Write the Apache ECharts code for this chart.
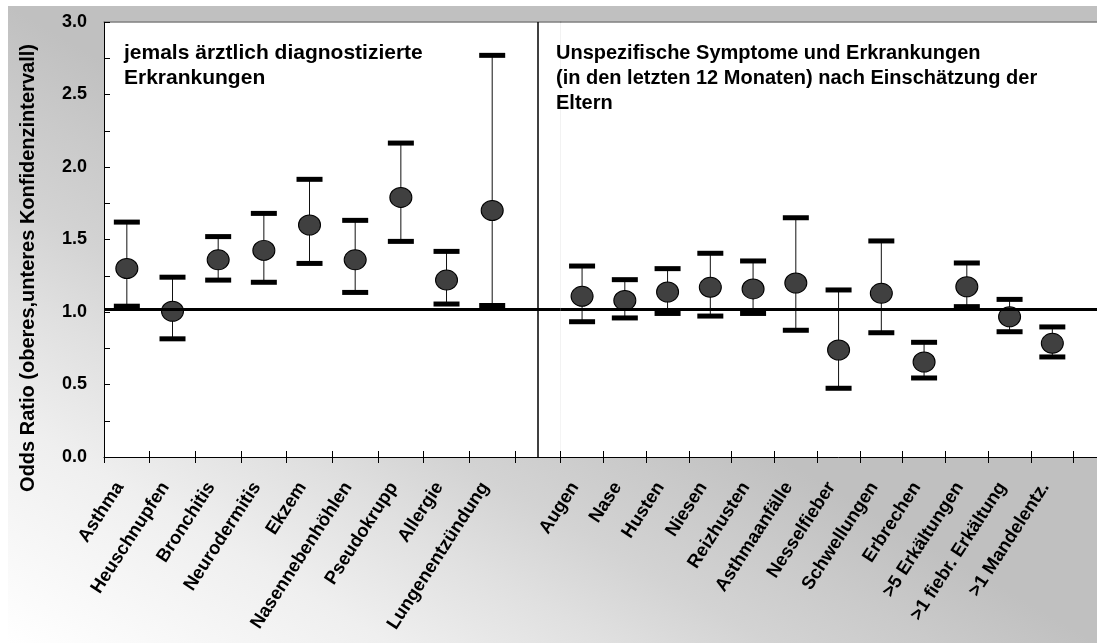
<!DOCTYPE html>
<html><head><meta charset="utf-8">
<script src="https://cdn.jsdelivr.net/npm/echarts@6/dist/echarts.min.js"></script>
<style>html,body{margin:0;padding:0;background:#fff;overflow:hidden}#c{width:1120px;height:643px}</style>
</head><body><div id="c"></div>
<script>
const categoriesLeft = ['Asthma','Heuschnupfen','Bronchitis','Neurodermitis','Ekzem','Nasennebenhöhlen','Pseudokrupp','Allergie','Lungenentzündung',''];
const oddsLeft  = [1.30, 1.005, 1.36, 1.425, 1.60, 1.36, 1.79, 1.22, 1.70];
const lowerLeft = [1.04, 0.815, 1.22, 1.205, 1.335, 1.135, 1.487, 1.055, 1.045];
const upperLeft = [1.62, 1.24, 1.52, 1.68, 1.915, 1.632, 2.165, 1.418, 2.77];

const categoriesRight = ['Augen','Nase','Husten','Niesen','Reizhusten','Asthmaanfälle','Nesselfieber','Schwellungen','Erbrechen','>5 Erkältungen','>1 fiebr. Erkältung','>1 Mandelentz.',''];
const oddsRight  = [1.108, 1.08, 1.138, 1.17, 1.159, 1.20, 0.738, 1.129, 0.655, 1.174, 0.967, 0.784];
const lowerRight = [0.933, 0.959, 0.99, 0.972, 0.99, 0.874, 0.474, 0.857, 0.545, 1.037, 0.864, 0.69];
const upperRight = [1.317, 1.223, 1.299, 1.405, 1.352, 1.65, 1.152, 1.49, 0.791, 1.338, 1.087, 0.897];

const referenceValue = 1.02;
const dividerCategoryIndex = 9;
const yTicks = {min: 0, max: 3, step: 0.25};
const yAxisName = 'Odds Ratio (oberes,unteres Konfidenzintervall)';
const noteLeft = 'jemals ärztlich diagnostizierte\nErkrankungen';
const noteRight = 'Unspezifische Symptome und Erkrankungen\n(in den letzten 12 Monaten) nach Einschätzung der\nEltern';

const FONT = "'Liberation Sans', Arial, Helvetica, sans-serif";

function errData(lo, hi) { return lo.map((v, i) => [i, v, hi[i]]); }

function renderErr(params, api) {
  const x = api.value(0);
  const pLo = api.coord([x, api.value(1)]);
  const pHi = api.coord([x, api.value(2)]);
  const cw = 26, ch = 5;
  return {
    type: 'group',
    children: [
      {type: 'line', shape: {x1: pLo[0], y1: pLo[1], x2: pHi[0], y2: pHi[1]}, style: {stroke: '#111', lineWidth: 1}},
      {type: 'rect', shape: {x: pLo[0] - cw / 2, y: pLo[1] - ch / 2, width: cw, height: ch}, style: {fill: '#000'}},
      {type: 'rect', shape: {x: pHi[0] - cw / 2, y: pHi[1] - ch / 2, width: cw, height: ch}, style: {fill: '#000'}}
    ]
  };
}

const chart = echarts.init(document.getElementById('c'), null, {renderer: 'canvas'});

const labelStyle = {interval: 0, rotate: 57, fontSize: 18.5, fontWeight: 'bold', color: '#000', fontFamily: FONT, margin: 16, padding: [0, 13, 0, 0]};

function xAxes(gridIndex, cats) {
  return [
    {type: 'category', gridIndex, data: cats, position: 'bottom', boundaryGap: true,
     axisLine: {show: true, lineStyle: {color: '#000', width: 1}},
     axisTick: {show: true, interval: 0, length: 6, lineStyle: {color: '#000'}},
     axisLabel: labelStyle, splitLine: {show: false}},
    {type: 'category', gridIndex, data: cats, position: 'bottom', boundaryGap: true,
     axisLine: {show: false},
     axisTick: {show: true, inside: true, interval: 0, length: 6, lineStyle: {color: '#000'}},
     axisLabel: {show: false}, splitLine: {show: false}},
    {type: 'category', gridIndex, data: cats, position: 'top', boundaryGap: true,
     axisLine: {show: true, lineStyle: {color: '#808080', width: 1.5}},
     axisTick: {show: false}, axisLabel: {show: false}, splitLine: {show: false}}
  ];
}

const isHalf = v => Math.abs(v * 2 - Math.round(v * 2)) < 1e-6;

const option = {
  animation: false,
  backgroundColor: '#ffffff',
  graphic: {
    elements: [
      {type: 'rect', z: -100, silent: true,
       shape: {x: 8, y: 6, width: 1112, height: 637},
       style: {fill: new echarts.graphic.LinearGradient(8, 643, 286, 168, [
         {offset: 0, color: '#ffffff'},
         {offset: 0.35, color: '#efefef'},
         {offset: 0.55, color: '#e0e0e0'},
         {offset: 0.7, color: '#d3d3d3'},
         {offset: 0.85, color: '#cacaca'},
         {offset: 1, color: '#c0c0c0'}
       ], true)}},
      {type: 'text', x: 28, y: 268, rotation: Math.PI / 2, silent: true,
       style: {text: yAxisName, fill: '#000', font: 'bold 20px ' + FONT, align: 'center', verticalAlign: 'middle', textAlign: 'center', textVerticalAlign: 'middle'}},
      {type: 'text', x: 124, y: 41, silent: true,
       style: {text: noteLeft, fill: '#000', font: 'bold 21px ' + FONT, lineHeight: 25, align: 'left', verticalAlign: 'top'}},
      {type: 'text', x: 556, y: 41, silent: true,
       style: {text: noteRight, fill: '#000', font: 'bold 20px ' + FONT, lineHeight: 25, align: 'left', verticalAlign: 'top'}}
    ]
  },
  grid: [
    {left: 104, top: 22, width: 456.7, height: 435, show: true, backgroundColor: '#ffffff', borderWidth: 0},
    {left: 560.7, top: 22, width: 555.75, height: 435, show: true, backgroundColor: '#ffffff', borderWidth: 0}
  ],
  xAxis: [].concat(xAxes(0, categoriesLeft), xAxes(1, categoriesRight)),
  yAxis: [
    {type: 'value', gridIndex: 0, min: yTicks.min, max: yTicks.max, interval: yTicks.step,
     axisLine: {show: true, lineStyle: {color: '#000', width: 1}},
     axisTick: {show: true, inside: true, length: 6, lineStyle: {color: '#000'}},
     axisLabel: {fontSize: 18, fontWeight: 'bold', color: '#000', fontFamily: FONT, margin: 17,
                 formatter: v => isHalf(v) ? v.toFixed(1) : ''},
     splitLine: {show: false}},
    {type: 'value', gridIndex: 1, min: yTicks.min, max: yTicks.max, interval: yTicks.step, show: false, splitLine: {show: false}}
  ],
  series: [
    {type: 'custom', xAxisIndex: 0, yAxisIndex: 0, z: 2, renderItem: renderErr,
     encode: {x: 0, y: [1, 2]}, data: errData(lowerLeft, upperLeft),
     markLine: {silent: true, symbol: 'none', label: {show: false}, animation: false,
       data: [
         {yAxis: referenceValue, lineStyle: {color: '#000', width: 3, type: 'solid'}},
         {xAxis: dividerCategoryIndex, lineStyle: {color: '#000', width: 1.5, type: 'solid'}}
       ]}},
    {type: 'scatter', xAxisIndex: 0, yAxisIndex: 0, z: 3, symbol: 'circle', symbolSize: [22, 20],
     itemStyle: {color: '#404040', borderColor: '#000', borderWidth: 1, opacity: 1}, data: oddsLeft},
    {type: 'custom', xAxisIndex: 3, yAxisIndex: 1, z: 2, renderItem: renderErr,
     encode: {x: 0, y: [1, 2]}, data: errData(lowerRight, upperRight),
     markLine: {silent: true, symbol: 'none', label: {show: false}, animation: false,
       data: [{yAxis: referenceValue, lineStyle: {color: '#000', width: 3, type: 'solid'}}]}},
    {type: 'scatter', xAxisIndex: 3, yAxisIndex: 1, z: 3, symbol: 'circle', symbolSize: [22, 20],
     itemStyle: {color: '#404040', borderColor: '#000', borderWidth: 1, opacity: 1}, data: oddsRight}
  ]
};
chart.setOption(option);
</script>
</body></html>
